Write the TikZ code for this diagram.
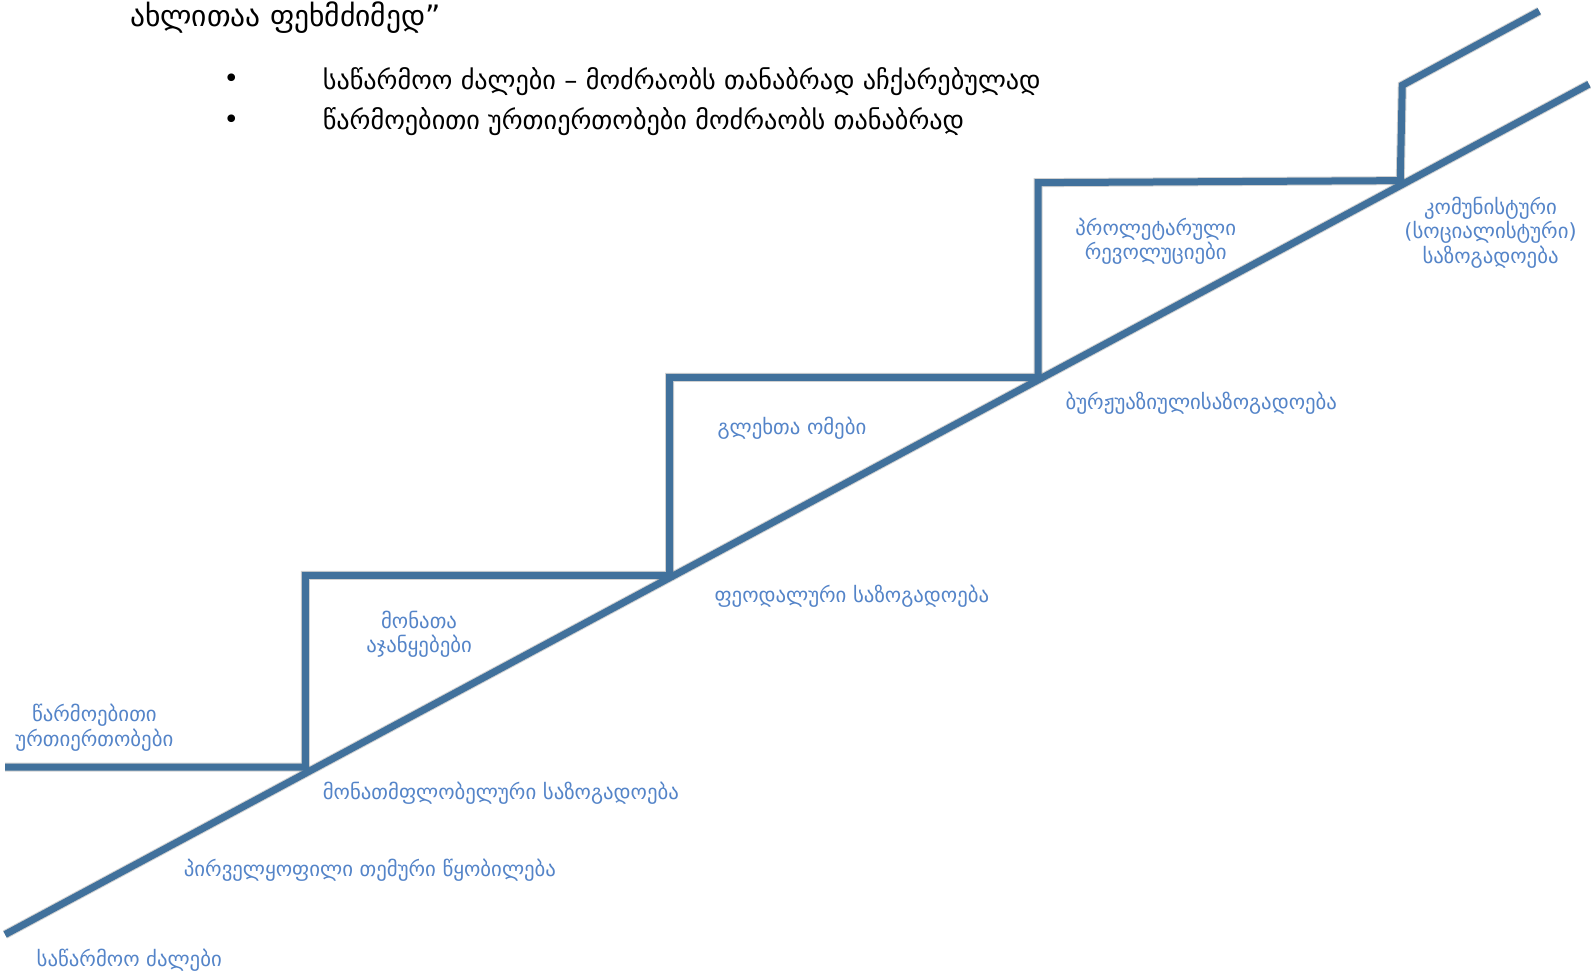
\documentclass[tikz,border=0pt]{standalone}
\usepackage{fontspec}
\setmainfont{DejaVu Sans}
\definecolor{stairblue}{RGB}{65,113,156}
\definecolor{labelblue}{RGB}{84,132,200}
\begin{document}
\begin{tikzpicture}[x=1.0147pt,y=-1.0147pt,
  stair/.style={draw=stairblue,line width=7pt,line join=miter,line cap=butt},
  shade/.style={draw=black,opacity=0.18,line width=9pt,line join=miter},
  lbl/.style={text=labelblue,font=\fontsize{20.8}{24.5}\selectfont,inner sep=0pt},
  head/.style={text=black,font=\fontsize{26.2}{30}\selectfont,inner sep=0pt,anchor=west}]
\useasboundingbox (0,0) rectangle (1568,960);
% coordinates
\coordinate (d0) at (5,921);
\coordinate (d1) at (1566,83);
\coordinate (s0) at (5,756);
\coordinate (s1) at (301,756);
\coordinate (s2) at (301,567);
\coordinate (s3) at (660,567);
\coordinate (s4) at (660,372);
\coordinate (s5) at (1023,372);
\coordinate (s6) at (1023,180);
\coordinate (s7) at (1380,178);
\coordinate (s8) at (1382,84);
\coordinate (s9) at (1517,11);
% shadows
\begin{scope}[shift={(3,3)}]
\draw[shade] (d0) -- (d1);
\draw[shade] (s0) -- (s1) -- (s2) -- (s3) -- (s4) -- (s5) -- (s6) -- (s7) -- (s8) -- (s9);
\end{scope}
% lines
\draw[stair] (d0) -- (d1);
\draw[stair] (s0) -- (s1) -- (s2) -- (s3) -- (s4) -- (s5) -- (s6) -- (s7) -- (s8) -- (s9);
% heading texts
\node[head,font=\fontsize{29.5}{32}\selectfont] (t0) at (128,17) {ახლითაა ფეხმძიმედ”};
\node[head,anchor=center] (b1) at (228,80) {•};
\node[head,anchor=center] (b2) at (228,120) {•};
\node[head] (t1) at (318,80) {საწარმოო ძალები – მოძრაობს თანაბრად აჩქარებულად};
\node[head] (t2) at (318,120) {წარმოებითი ურთიერთობები მოძრაობს თანაბრად};
% labels
\node[lbl,align=center] (l1) at (93,717) {წარმოებითი\\ურთიერთობები};
\node[lbl,align=center] (l2) at (413,625) {მონათა\\აჯანყებები};
\node[lbl,anchor=west] (l3) at (318,782) {მონათმფლობელური საზოგადოება};
\node[lbl,anchor=west] (l4) at (181,858) {პირველყოფილი თემური წყობილება};
\node[lbl,anchor=west] (l5) at (36,946) {საწარმოო ძალები};
\node[lbl,anchor=west] (l6) at (707,422) {გლეხთა ომები};
\node[lbl,anchor=west] (l7) at (704,588) {ფეოდალური საზოგადოება};
\node[lbl,align=center] (l8) at (1139,238) {პროლეტარული\\რევოლუციები};
\node[lbl,anchor=west] (l9) at (1050,397) {ბურჟუაზიულისაზოგადოება};
\node[lbl,align=center] (l10) at (1469,229) {კომუნისტური\\(სოციალისტური)\\საზოგადოება};
\end{tikzpicture}
\end{document}
